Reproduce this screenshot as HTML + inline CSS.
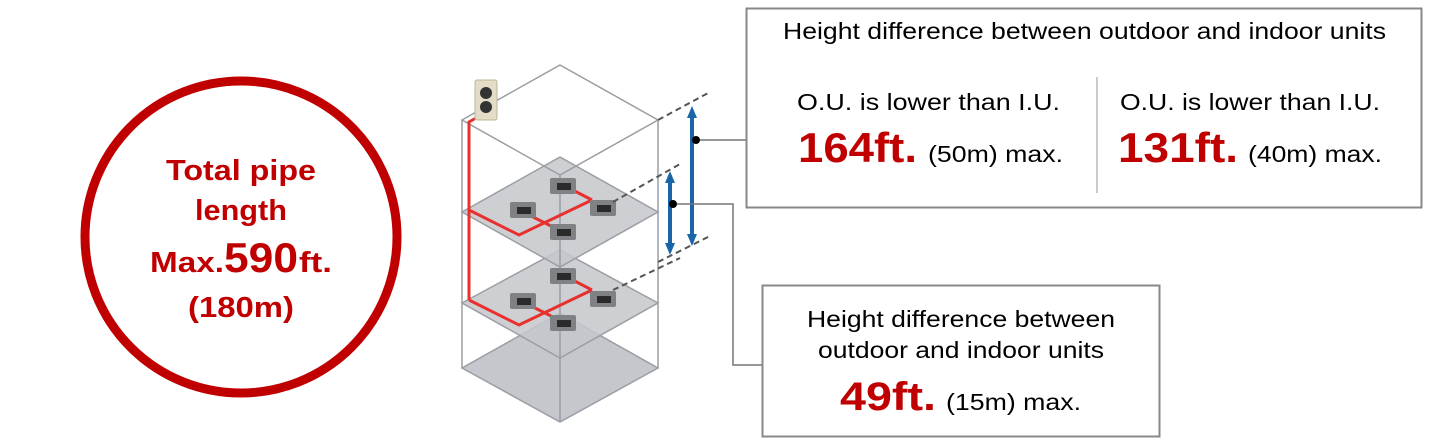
<!DOCTYPE html>
<html><head><meta charset="utf-8"><style>
html,body{margin:0;padding:0;background:#fff;width:1451px;height:444px;overflow:hidden}
svg{display:block;font-family:"Liberation Sans",Arial,sans-serif}
</style></head><body>
<svg width="1451" height="444" viewBox="0 0 1451 444" xmlns="http://www.w3.org/2000/svg">
<defs>
<g id="u"><rect x="-13" y="-8" width="26" height="16" rx="2" fill="#7f8185"/><rect x="-6" y="-3" width="14" height="7" fill="#2a2a2a"/></g>
</defs>
<!-- circle -->
<circle cx="241" cy="237" r="156" fill="none" stroke="#c00000" stroke-width="9"/>
<g fill="#c00000" font-weight="bold" text-anchor="middle">
<text x="241" y="180" font-size="29" textLength="150" lengthAdjust="spacingAndGlyphs">Total pipe</text>
<text x="241" y="220" font-size="29" textLength="92" lengthAdjust="spacingAndGlyphs">length</text>
<text x="150" y="272" font-size="29" text-anchor="start" textLength="74" lengthAdjust="spacingAndGlyphs">Max.</text>
<text x="224" y="272" font-size="42" text-anchor="start" textLength="74" lengthAdjust="spacingAndGlyphs">590</text>
<text x="299" y="272" font-size="29" text-anchor="start" textLength="33" lengthAdjust="spacingAndGlyphs">ft.</text>
<text x="241" y="317" font-size="29" textLength="106" lengthAdjust="spacingAndGlyphs">(180m)</text>
</g>

<!-- building floors -->
<g stroke="#9a9ea4" stroke-width="1.5">
<polygon points="560,313 658,368 560,422 462,368" fill="#c4c7cb"/>
<polygon points="560,250 658,303 560,358 462,303" fill="#c4c7cb" fill-opacity="0.85"/>
<polygon points="560,157 658,212 560,267 462,212" fill="#c4c7cb" fill-opacity="0.85"/>
</g>
<g stroke="#9a9ea4" stroke-width="1.5" fill="none">
<polygon points="560,65 658,120 560,175 462,120"/>
<line x1="462" y1="120" x2="462" y2="368"/>
<line x1="658" y1="120" x2="658" y2="368"/>
<line x1="560" y1="175" x2="560" y2="422"/>
</g>

<!-- red pipes -->
<g stroke="#e8302e" stroke-width="3" fill="none">
<polyline points="476,118 469,122 469,300"/>
<polyline points="469,210 519,235 592,200"/>
<line x1="567" y1="187" x2="592" y2="200"/>
<line x1="523" y1="212" x2="563" y2="232"/>
<polyline points="469,300 519,325 592,290"/>
<line x1="567" y1="277" x2="592" y2="290"/>
<line x1="523" y1="302" x2="563" y2="322"/>
</g>

<use href="#u" x="563" y="186"/>
<use href="#u" x="523" y="210"/>
<use href="#u" x="603" y="208"/>
<use href="#u" x="563" y="232"/>
<use href="#u" x="563" y="276"/>
<use href="#u" x="523" y="301"/>
<use href="#u" x="603" y="299"/>
<use href="#u" x="563" y="323"/>

<!-- outdoor unit -->
<rect x="475" y="80" width="22" height="40" rx="2" fill="#e3ddc8" stroke="#bcb59c"/>
<circle cx="486" cy="93" r="6" fill="#333"/>
<circle cx="486" cy="107" r="6" fill="#333"/>

<!-- dashed lines -->
<g stroke="#555" stroke-width="2" stroke-dasharray="6,4">
<line x1="658" y1="120" x2="710" y2="92"/>
<line x1="613" y1="202" x2="680" y2="164"/>
<line x1="658" y1="262" x2="710" y2="236"/>
<line x1="613" y1="290" x2="680" y2="258"/>
</g>

<!-- blue arrows -->
<g fill="#1a64a8" stroke="#1a64a8">
<line x1="692" y1="114" x2="692" y2="238" stroke-width="4"/>
<polygon points="692,106 687,118 697,118" stroke="none"/>
<polygon points="692,246 687,234 697,234" stroke="none"/>
<line x1="670" y1="178" x2="670" y2="248" stroke-width="4"/>
<polygon points="670,171 665,183 675,183" stroke="none"/>
<polygon points="670,255 665,243 675,243" stroke="none"/>
</g>
<g stroke="#777" stroke-width="1.5" fill="none">
<line x1="696" y1="140" x2="746" y2="140"/>
<polyline points="673,204 733,204 733,365 762,365"/>
</g>
<circle cx="696" cy="140" r="4" fill="#000"/>
<circle cx="673" cy="204" r="4" fill="#000"/>

<!-- top box -->
<rect x="746.5" y="8.5" width="675" height="199" fill="#fff" stroke="#888" stroke-width="2"/>
<line x1="1097" y1="77" x2="1097" y2="193" stroke="#999" stroke-width="1"/>
<g font-size="23" fill="#000">
<text x="783" y="39" textLength="603" lengthAdjust="spacingAndGlyphs">Height difference between outdoor and indoor units</text>
<text x="797" y="110" textLength="263" lengthAdjust="spacingAndGlyphs">O.U. is lower than I.U.</text>
<text x="1120" y="110" textLength="260" lengthAdjust="spacingAndGlyphs">O.U. is lower than I.U.</text>
<text x="928" y="162" textLength="135" lengthAdjust="spacingAndGlyphs">(50m) max.</text>
<text x="1248" y="162" textLength="134" lengthAdjust="spacingAndGlyphs">(40m) max.</text>
</g>
<g font-size="42" font-weight="bold" fill="#c00000">
<text x="798" y="162" textLength="119" lengthAdjust="spacingAndGlyphs">164ft.</text>
<text x="1118" y="162" textLength="120" lengthAdjust="spacingAndGlyphs">131ft.</text>
</g>

<!-- bottom box -->
<rect x="762.5" y="285.5" width="397" height="151" fill="#fff" stroke="#888" stroke-width="2"/>
<g font-size="23" fill="#000" text-anchor="middle">
<text x="961" y="327" textLength="308" lengthAdjust="spacingAndGlyphs">Height difference between</text>
<text x="961" y="358" textLength="286" lengthAdjust="spacingAndGlyphs">outdoor and indoor units</text>
</g>
<text x="840" y="410" font-size="40" font-weight="bold" fill="#c00000" textLength="96" lengthAdjust="spacingAndGlyphs">49ft.</text>
<text x="946" y="410" font-size="23" fill="#000" textLength="135" lengthAdjust="spacingAndGlyphs">(15m) max.</text>
</svg>
</body></html>
